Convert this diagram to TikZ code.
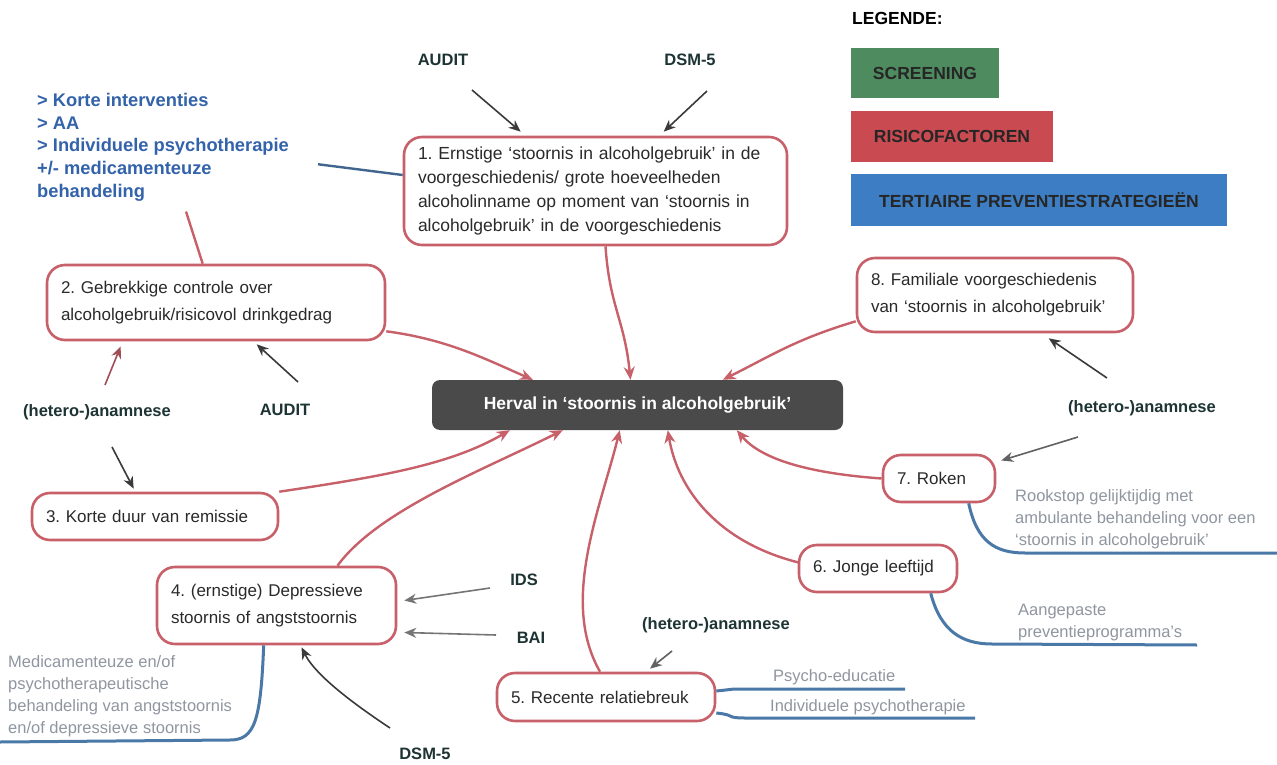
\documentclass[tikz,border=0pt]{standalone}
\usepackage{fontspec}
\setmainfont{Liberation Sans}
\usetikzlibrary{arrows.meta,calc}
\definecolor{rb}{HTML}{C8606A}
\definecolor{ntext}{HTML}{2A2A2A}
\definecolor{hv}{HTML}{4A4A4A}
\definecolor{labc}{HTML}{1E3333}
\definecolor{bluet}{HTML}{3363AA}
\definecolor{bl}{HTML}{4A79A8}
\definecolor{bld}{HTML}{40668F}
\definecolor{greyc}{HTML}{9096A0}
\definecolor{sk}{HTML}{3A3A3A}
\definecolor{lgreen}{HTML}{4E8B5F}
\definecolor{lred}{HTML}{C94A50}
\definecolor{lblue}{HTML}{3C7DC3}
\definecolor{legtext}{HTML}{262626}
\begin{document}
\frenchspacing
\begin{tikzpicture}[x=1pt,y=-1pt,
  rbox/.style={draw=rb, line width=2.6pt, rounded corners=18pt, fill=white, align=left,
    inner xsep=14pt, inner ysep=0pt, text=ntext, font=\fontsize{17}{27}\selectfont},
  lab/.style={font=\bfseries\fontsize{16.5}{20}\selectfont, text=labc, inner sep=0pt},
  greytext/.style={font=\fontsize{16.5}{22}\selectfont, text=greyc, align=left, inner sep=0pt},
  rarrow/.style={draw=rb, line width=2.4pt, -{Stealth[length=13pt,width=11pt]}},
  sarrow/.style={draw=sk, line width=1.6pt, -{Stealth[length=12pt,width=10pt]}},
  bline/.style={draw=bl, line width=3pt},
  legbox/.style={inner sep=0pt, font=\bfseries\fontsize{17.5}{20}\selectfont, text=legtext}
]
\useasboundingbox (0,0) rectangle (1277,765);
\fill[white] (0,0) rectangle (1277,765);

% legend
\node[anchor=west, inner sep=0pt, font=\bfseries\fontsize{17.5}{20}\selectfont, text=black] (legT) at (852,18) {LEGENDE:};
\node[legbox, fill=lgreen, minimum width=148pt, minimum height=50pt] (legG) at (925,73) {SCREENING};
\node[legbox, fill=lred, minimum width=202pt, minimum height=51pt] (legR) at (952,136.5) {RISICOFACTOREN};
\node[legbox, fill=lblue, minimum width=376pt, minimum height=52pt] (legB) at (1039,200) {TERTIAIRE PREVENTIESTRATEGIEËN};

% central node
\node[fill=hv, rounded corners=8pt, minimum width=411pt, minimum height=50pt, inner sep=0pt,
  text=white, font=\bfseries\fontsize{17.5}{20}\selectfont] (H) at (637.5,405)
  {Herval in `stoornis in alcoholgebruik'};

% risk factor nodes
\node[rbox, font=\fontsize{17.5}{23.7}\selectfont, minimum width=383pt, minimum height=108pt, text width=355pt] (n1) at (595.5,191)
  {1. Ernstige `stoornis in alcoholgebruik' in de\\voorgeschiedenis/ grote hoeveelheden\\alcoholinname op moment van `stoornis in\\alcoholgebruik' in de voorgeschiedenis};
\node[rbox, minimum width=338pt, minimum height=75pt, text width=310pt] (n2) at (216,302.5)
  {2. Gebrekkige controle over\\alcoholgebruik/risicovol drinkgedrag};
\node[rbox, minimum width=276pt, minimum height=74pt, text width=248pt] (n8) at (995,295)
  {8. Familiale voorgeschiedenis\\van `stoornis in alcoholgebruik'};
\node[rbox, minimum width=246pt, minimum height=47pt, text width=218pt] (n3) at (155,516.5)
  {3. Korte duur van remissie};
\node[rbox, minimum width=239pt, minimum height=77pt, text width=211pt] (n4) at (276.5,605.5)
  {4. (ernstige) Depressieve\\stoornis of angststoornis};
\node[rbox, minimum width=218pt, minimum height=48pt, text width=190pt] (n5) at (606,697)
  {5. Recente relatiebreuk};
\node[rbox, minimum width=158pt, minimum height=47pt, text width=130pt] (n6) at (878,568.5)
  {6. Jonge leeftijd};
\node[rbox, minimum width=112pt, minimum height=47pt, text width=84pt] (n7) at (939,478.5)
  {7. Roken};

% blue strategy text (top left)
\node[anchor=north west, inner sep=0pt, align=left, text=bluet,
  font=\bfseries\fontsize{18.3}{22.75}\selectfont] (bt) at (37,93)
  {> Korte interventies\\> AA\\> Individuele psychotherapie\\+/- medicamenteuze\\behandeling};

% screening labels
\node[lab] (auditA) at (443,60) {AUDIT};
\node[lab] (dsmA) at (690,60) {DSM-5};
\node[lab] (anamA) at (97,412) {(hetero-)anamnese};
\node[lab] (auditB) at (285,410) {AUDIT};
\node[lab] (anamB) at (1142,408) {(hetero-)anamnese};
\node[lab] (idsL) at (524,580) {IDS};
\node[lab] (baiL) at (531,638) {BAI};
\node[lab] (dsmB) at (425,754) {DSM-5};
\node[lab] (anamC) at (716,625) {(hetero-)anamnese};

% tertiary prevention texts
\node[greytext, anchor=south west] (g4) at (8,737)
  {Medicamenteuze en/of\\psychotherapeutische\\behandeling van angststoornis\\en/of depressieve stoornis};
\node[greytext, anchor=south west] (g7) at (1015,549)
  {Rookstop gelijktijdig met\\ambulante behandeling voor een\\`stoornis in alcoholgebruik'};
\node[greytext, anchor=south west] (g6) at (1018,641)
  {Aangepaste\\preventieprogramma's};
\node[greytext, anchor=south west] (g5a) at (773,685) {Psycho-educatie};
\node[greytext, anchor=south west] (g5b) at (770,715) {Individuele psychotherapie};

% links of the blue text
\draw[draw=bld, line width=2.4pt] ($(bt.east)+(29,17)$) -- ($(n1.west)+(0,-16)$);
\draw[draw=rb, line width=2.4pt] ($(bt.south west)+(149,10)$) -- ($(n2.north west)+(157,0)$);

% risk factor arrows into the central node
\draw[rarrow] ($(n1.south)+(10,0)$) .. controls +(4,60) and +(-6,-60) .. ($(H.north)+(-7,0)$);
\draw[rarrow] ($(n2.south east)+(0,-10)$) .. controls +(60,8) and +(-50,-22) .. ($(H.north west)+(101,0)$);
\draw[rarrow] ($(n8.south west)+(0,-12)$) .. controls +(-60,18) and +(50,-25) .. ($(H.north west)+(291,0)$);
\draw[rarrow] ($(n3.north east)+(0,0)$) .. controls +(100,-15) and +(-60,35) .. ($(H.south west)+(78,0)$);
\draw[rarrow] ($(n4.north)+(61,0)$) .. controls +(40,-55) and +(-80,40) .. ($(H.south west)+(131,0)$);
\draw[rarrow] ($(n5.north)+(-6,0)$) .. controls +(-40,-70) and +(-20,80) .. ($(H.south west)+(188,0)$);
\draw[rarrow] ($(n6.west)+(1,-6)$) .. controls +(-80,-20) and +(10,60) .. ($(H.south west)+(236,0)$);
\draw[rarrow] (n7.west) .. controls +(-70,-5) and +(25,30) .. ($(H.south west)+(305,0)$);

% screening arrows
\draw[sarrow] ($(auditA)+(29,30)$) -- ($(n1.north west)+(118,-4)$);
\draw[sarrow] ($(dsmA)+(17,31)$) -- ($(n1.north west)+(261,-4)$);
\draw[sarrow, draw=rb!80!black] ($(anamA)+(8,-27)$) -- ($(n2.south west)+(75,5)$);
\draw[sarrow] ($(auditB)+(13,-28)$) -- ($(n2.south west)+(211,3)$);
\draw[sarrow] ($(anamB)+(-35,-30)$) -- ($(n8.south west)+(193,5)$);
\draw[sarrow] ($(anamA)+(15,35)$) -- ($(n3.north west)+(103,-3)$);
\draw[sarrow, draw=sk!80] ($(anamB)+(-64,29)$) -- ($(n7.east)+(5,-18)$);
\draw[sarrow, draw=sk!70] ($(idsL)+(-34,8)$) -- ($(n4.east)+(7,-5)$);
\draw[sarrow, draw=sk!70] ($(baiL)+(-35,-3)$) -- ($(n4.east)+(7,27)$);
\draw[sarrow] ($(dsmB)+(-35,-26)$) .. controls +(-30,-20) and +(15,30) .. ($(n4.south)+(25,2)$);
\draw[sarrow, draw=sk!80] ($(anamC)+(-44,26)$) -- ($(n5.north)+(44,-3)$);

% tertiary prevention lines
\draw[bline] ($(n4.south west)+(108,0)$) .. controls +(-3,75) and +(25,0) .. ($(g4.south west)+(222,3)$) -- ($(g4.south west)+(-8,5)$);
\draw[bline] ($(n7.south west)+(87,0)$) .. controls +(8,38) and +(-30,0) .. ($(g7.south west)+(10,4)$) -- ($(g7.south west)+(262,4)$);
\draw[bline] ($(n6.south west)+(133,0)$) .. controls +(10,38) and +(-30,0) .. ($(g6.south west)+(-26,3)$) -- ($(g6.south west)+(179,4)$);
\draw[bline] ($(n5.east)+(0,-6)$) .. controls +(20,-2) and +(-20,0) .. ($(g5a.south west)+(-25,4)$) -- ($(g5a.south west)+(132,4)$);
\draw[bline] ($(n5.east)+(0,16)$) .. controls +(20,2) and +(-20,0) .. ($(g5b.south west)+(-25,3)$) -- ($(g5b.south west)+(205,3)$);
\end{tikzpicture}
\end{document}
